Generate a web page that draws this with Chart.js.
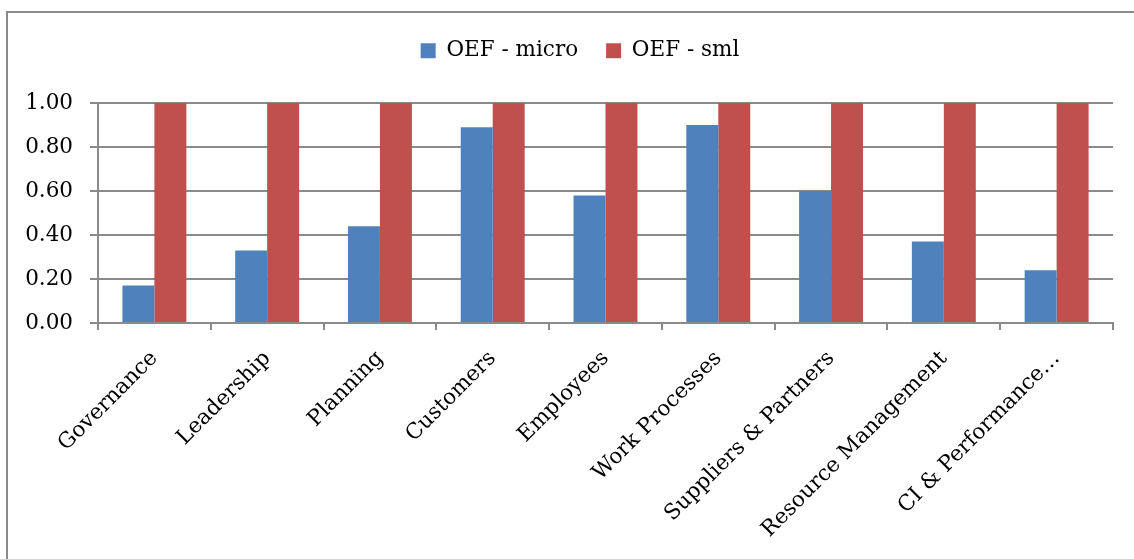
<!DOCTYPE html>
<html>
<head>
<meta charset="utf-8">
<script src="https://cdn.jsdelivr.net/npm/chart.js@4.4.1/dist/chart.umd.min.js"></script>
<style>
    html, body { margin: 0; padding: 0; background: #ffffff; overflow: hidden; }
    #frame {
        position: absolute;
        left: 6px;
        top: 11px;
        width: 2000px;
        height: 2000px;
        border-left: 2px solid #8a8a8a;
        border-top: 2px solid #8a8a8a;
    }
    #wrap { position: absolute; left: 0; top: 0; width: 1134px; height: 559px; }
</style>
</head>
<body>
<div id="frame"></div>
<div id="wrap"><canvas id="chart" width="1134" height="559"></canvas></div>
<script>
const categories = [
    'Governance', 'Leadership', 'Planning', 'Customers', 'Employees',
    'Work Processes', 'Suppliers & Partners', 'Resource Management', 'CI & Performance…'
];
const microScores = [0.17, 0.33, 0.44, 0.89, 0.58, 0.90, 0.60, 0.37, 0.24];
const smlScores = [1.00, 1.00, 1.00, 1.00, 1.00, 1.00, 1.00, 1.00, 1.00];
const seriesNames = ['OEF - micro', 'OEF - sml'];

const BLUE = '#4f81bd';
const RED = '#c0504d';
const AXIS_GREY = '#8a8a8a';
const FONT = { family: '"DejaVu Serif", serif', size: 21.5 };

// plot box edges in canvas pixels
const PLOT_LEFT = 98;
const PLOT_TOP = 103;
const PLOT_BOTTOM = 323;
const LEGEND_LEFT = 47; // legend is centred between this and the plot's right edge

const legendBox = {
    id: 'legendBox',
    beforeInit(chart) {
        const legend = chart.legend;
        const fit = legend.fit;
        legend.fit = function () {
            fit.call(this);
            this.height = PLOT_TOP - chart.options.layout.padding.top;
        };
    },
    afterLayout(chart) {
        chart.legend.left = LEGEND_LEFT;
    }
};

new Chart(document.getElementById('chart'), {
    type: 'bar',
    data: {
        labels: categories,
        datasets: [{
            label: seriesNames[0],
            data: microScores,
            backgroundColor: BLUE,
            borderWidth: 0,
            categoryPercentage: 0.567,
            barPercentage: 1.0
        }, {
            label: seriesNames[1],
            data: smlScores,
            backgroundColor: RED,
            borderWidth: 0,
            categoryPercentage: 0.567,
            barPercentage: 1.0
        }]
    },
    options: {
        responsive: false,
        animation: false,
        layout: { padding: { top: 12, left: 0, right: 21, bottom: 0 } },
        plugins: {
            legend: {
                position: 'top',
                labels: {
                    font: FONT,
                    color: '#000000',
                    boxWidth: 15,
                    boxHeight: 15,
                    padding: 28
                }
            },
            tooltip: { enabled: false }
        },
        scales: {
            x: {
                grid: {
                    display: true,
                    offset: true,
                    drawOnChartArea: false,
                    drawTicks: true,
                    tickLength: 7,
                    color: AXIS_GREY,
                    lineWidth: 2
                },
                border: { display: true, color: AXIS_GREY, width: 2 },
                ticks: {
                    font: FONT,
                    color: '#000000',
                    minRotation: 45,
                    maxRotation: 45,
                    autoSkip: false,
                    padding: 16
                },
                afterFit(scale) {
                    scale.height = 559 - PLOT_BOTTOM;
                }
            },
            y: {
                min: 0,
                max: 1,
                grid: {
                    color: AXIS_GREY,
                    lineWidth: 2,
                    drawTicks: true,
                    tickLength: 8
                },
                border: { display: true, color: AXIS_GREY, width: 2 },
                ticks: {
                    stepSize: 0.2,
                    font: FONT,
                    color: '#000000',
                    padding: 17,
                    callback: (value) => value.toFixed(2)
                },
                afterFit(scale) {
                    scale.width = PLOT_LEFT;
                }
            }
        }
    },
    plugins: [legendBox]
});
</script>
</body>
</html>
